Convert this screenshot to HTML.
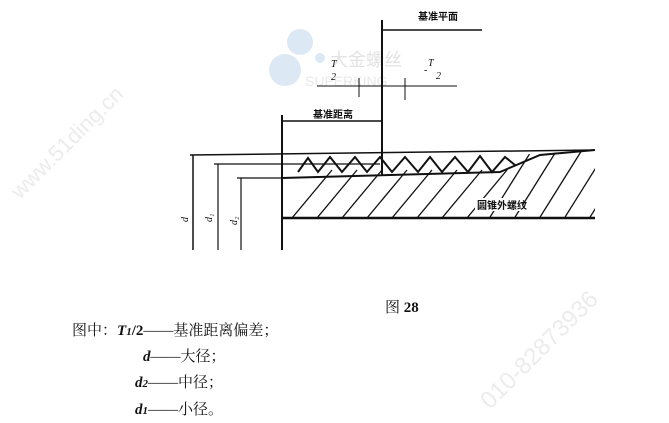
<!DOCTYPE html>
<html><head><meta charset="utf-8"><style>
body{margin:0;width:669px;height:423px;background:#fff;overflow:hidden;position:relative;font-family:"Liberation Serif","Noto Serif CJK SC",serif;}
.t{position:absolute;font-size:15px;color:#111;white-space:nowrap;}
i{font-weight:bold;}
</style></head><body>
<svg width="669" height="423" style="position:absolute;left:0;top:0">
<defs><clipPath id="c"><polygon points="282,170 595,150 595,218 282,218"/></clipPath></defs>
<circle cx="300" cy="42" r="13" fill="#dce9f4"/><circle cx="285" cy="70" r="16" fill="#dce9f4"/><circle cx="320" cy="58" r="5" fill="#dce9f4"/>
<text x="330" y="66" font-size="18" fill="#e3e3e3" font-family="Liberation Sans, Noto Sans CJK SC, sans-serif">大金螺丝</text>
<text x="305" y="86" font-size="14" fill="#e8e8e8" font-family="Liberation Sans, sans-serif">SUPERKING</text>
<text x="20" y="200" font-size="22" fill="#ececec" font-family="Liberation Sans, sans-serif" transform="rotate(-45 20 200)">www.51ding.cn</text>
<text x="490" y="410" font-size="24" fill="#ececec" font-family="Liberation Sans, sans-serif" transform="rotate(-45 490 410)">010-82873936</text>
<g stroke="#111" fill="none">
<line x1="382" y1="20" x2="382" y2="175" stroke-width="2"/>
<line x1="382" y1="30" x2="482" y2="30" stroke-width="1.5"/>
<line x1="317" y1="86" x2="457" y2="86" stroke-width="1"/>
<line x1="359" y1="78" x2="359" y2="97"/><line x1="405" y1="78" x2="405" y2="100"/>
<line x1="282" y1="121" x2="382" y2="121" stroke-width="1.5"/>
<line x1="282" y1="115" x2="282" y2="250" stroke-width="2"/>
<line x1="190" y1="155" x2="595" y2="150" stroke-width="1.5"/>
<line x1="214" y1="164" x2="380" y2="164" stroke-width="1.2"/>
<line x1="237" y1="178" x2="282" y2="178" stroke-width="1.2"/>
<line x1="282" y1="180" x2="595" y2="180" stroke-width="0"/>
<line x1="193" y1="155" x2="193" y2="250" stroke-width="1.5"/>
<line x1="218" y1="164" x2="218" y2="250" stroke-width="1.2"/>
<line x1="241" y1="178" x2="241" y2="250" stroke-width="1.2"/>
<polyline points="282,178 500,172 540,155 595,150" stroke-width="2"/>
<line x1="282" y1="218" x2="595" y2="218" stroke-width="2.5"/>
<polyline points="298,172 308,158 318,172 330,157 342,172 355,157 367,172 380,157 392,172 405,157 418,172 430,157 442,172 455,157 468,172 480,156 492,172 505,157 515,165" stroke-width="2"/>
<g clip-path="url(#c)" stroke-width="1.3">
<line x1="282" y1="230" x2="332" y2="170"/><line x1="307" y1="230" x2="357" y2="170"/><line x1="332" y1="230" x2="382" y2="170"/><line x1="357" y1="230" x2="407" y2="170"/><line x1="382" y1="230" x2="432" y2="170"/><line x1="407" y1="230" x2="457" y2="170"/><line x1="432" y1="230" x2="482" y2="170"/><line x1="457" y1="230" x2="507" y2="170"/><line x1="482" y1="230" x2="532" y2="150"/><line x1="507" y1="230" x2="557" y2="150"/><line x1="532" y1="230" x2="582" y2="150"/><line x1="557" y1="230" x2="607" y2="150"/><line x1="582" y1="230" x2="632" y2="150"/>
</g>
</g>
<g font-family="Liberation Sans, Noto Sans CJK SC, sans-serif" fill="#111">
<text x="418" y="20" font-size="10" font-weight="bold">基准平面</text>
<text x="313" y="118" font-size="10" font-weight="bold">基准距离</text>
<rect x="475" y="198" width="48" height="13" fill="#fff"/>
<text x="477" y="209" font-size="10" font-weight="bold">圆锥外螺纹</text>
</g>
<g font-family="Liberation Serif, serif" font-style="italic" font-size="10" fill="#111">
<text x="331" y="67">T</text><text x="331" y="80">2</text>
<text x="428" y="66">T</text><text x="436" y="79">2</text><text x="424" y="73">-</text>
<text x="188" y="222" transform="rotate(-90 188 222)">d</text>
<text x="212" y="222" transform="rotate(-90 212 222)">d₁</text>
<text x="237" y="225" transform="rotate(-90 237 225)">d₂</text>
</g>
</svg>
<div class="t" style="left:385px;top:296px">图 <b>28</b></div>
<div class="t" style="left:72px;top:319px">图中：<i>T</i><i style="font-size:11px">1</i><b>/2</b>——基准距离偏差；</div>
<div class="t" style="left:143px;top:345px"><i>d</i>——大径；</div>
<div class="t" style="left:135px;top:371px"><i>d</i><i style="font-size:11px">2</i>——中径；</div>
<div class="t" style="left:135px;top:398px"><i>d</i><i style="font-size:11px">1</i>——小径。</div>
</body></html>
